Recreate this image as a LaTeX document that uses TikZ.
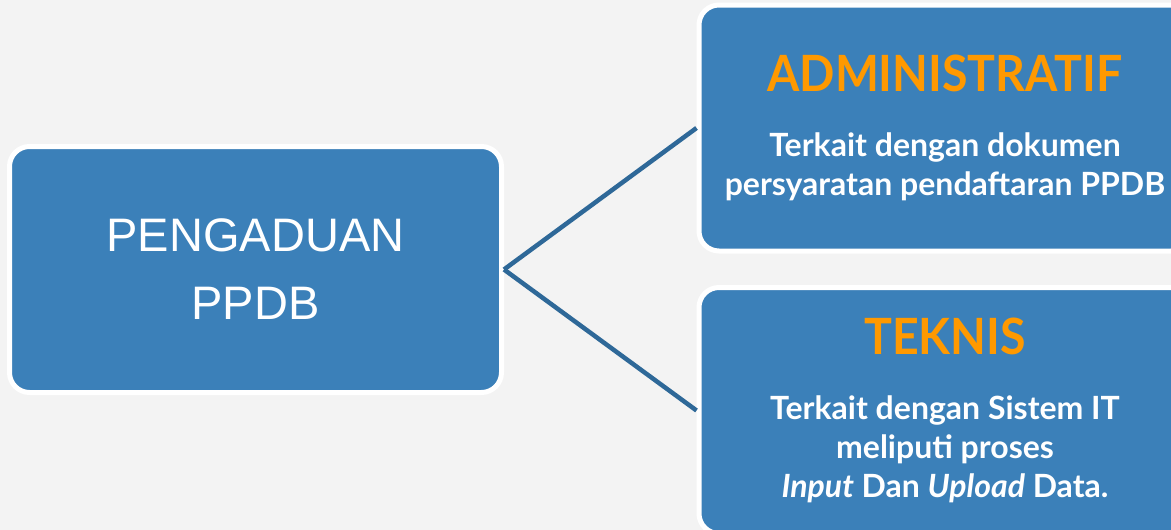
\documentclass[tikz,border=0pt]{standalone}
\usepackage{fontspec}
\setmainfont{Liberation Sans}
\newfontfamily\latofont{Lato}
\newfontfamily\titlefont[FakeStretch=0.93]{Lato}
\usetikzlibrary{positioning}

\definecolor{boxblue}{HTML}{3B80B9}
\definecolor{linkblue}{HTML}{2E6898}
\definecolor{titleorange}{HTML}{FF9900}
\definecolor{paper}{HTML}{F3F3F3}

\begin{document}
\begin{tikzpicture}[x=1pt, y=1pt]

    % Define style for different elements
    \tikzstyle{topic} = [rectangle, rounded corners=20pt, minimum width=492pt, minimum height=246pt, text centered, draw=white, line width=5pt, fill=boxblue, text=white, inner sep=0pt, align=center]
    \tikzstyle{maintopic} = [topic, font=\fontsize{47}{68}\selectfont]
    \tikzstyle{subtopic} = [topic, font=\latofont\bfseries\fontsize{32}{39}\selectfont]
    \tikzstyle{link} = [draw=linkblue, line width=4.5pt]

    % Canvas
    \useasboundingbox (0,0) rectangle (1171,-530);
    \fill[paper] (0,0) rectangle (1171,-530);
    \clip (0,0) rectangle (1171,-530);

    % Place nodes
    \node (pengaduan) [maintopic] at (255.5,-269.5) {PENGADUAN\\PPDB};
    \node (admin) [subtopic] at (945,-128) {{\titlefont\bfseries\fontsize{50}{50}\selectfont\color{titleorange}ADMINISTRATIF}\\[26pt]
        Terkait dengan dokumen\\persyaratan pendaftaran PPDB};
    \node (teknis) [subtopic] at (945,-410.5) {{\titlefont\bfseries\fontsize{50}{50}\selectfont\color{titleorange}TEKNIS}\\[26pt]
        Terkait dengan Sistem IT\\meliputi proses\\\textit{Input} Dan \textit{Upload} Data.};

    % Draw connectors
    \draw [link] (pengaduan.east) -- (admin.west);
    \draw [link] (pengaduan.east) -- (teknis.west);

\end{tikzpicture}
\end{document}
